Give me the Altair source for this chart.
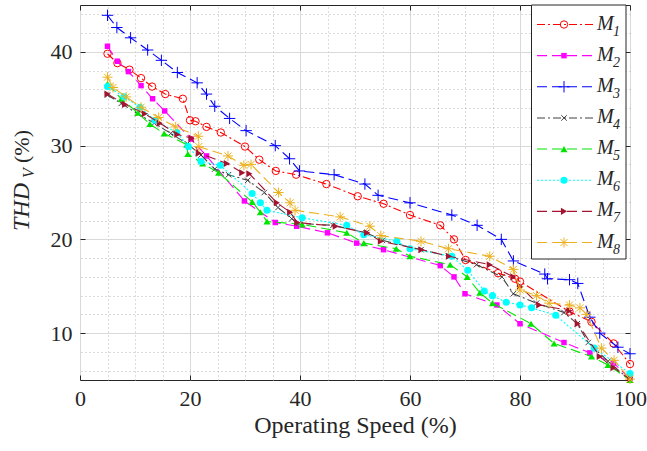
import altair as alt
import pandas as pd

FONT = "Liberation Serif"
INK = "#262626"

names = ["M1", "M2", "M3", "M4", "M5", "M6", "M7", "M8"]
subs = ["1", "2", "3", "4", "5", "6", "7", "8"]

M1_x = [5, 6.8, 9, 11.1, 13.1, 15.5, 18.7, 20, 21, 23, 25.6, 30, 32.6, 35.6, 39.3, 44.8, 50.5, 55.2, 60, 65.5, 68, 70.1, 76, 79.1, 80, 89, 93, 97, 100]
M1_y = [39.8, 38.8, 38.1, 37.2, 36.3, 35.5, 35.0, 32.7, 32.6, 32.0, 31.4, 29.9, 28.5, 27.3, 26.9, 25.9, 24.6, 23.8, 22.6, 21.5, 20.0, 17.8, 16.4, 15.8, 15.5, 12.3, 11.2, 8.9, 6.7]

M2_x = [5, 6.8, 8.8, 11.1, 13.2, 15.4, 20.2, 23, 29.9, 35.5, 39.4, 45, 50.3, 55.2, 65.5, 68, 70, 75.8, 80, 88, 92.7, 97, 100]
M2_y = [40.6, 39.0, 37.9, 36.4, 35.0, 33.7, 30.7, 28.9, 24.1, 21.8, 21.4, 20.7, 19.6, 18.9, 17.2, 16.0, 14.2, 13.0, 11.0, 9.0, 7.9, 6.8, 5.2]

M3_x = [5, 6.7, 9.2, 12.3, 14.8, 17.7, 21.3, 23, 24.5, 27.2, 30.2, 35.5, 38.1, 39.9, 46.2, 51.8, 54.2, 60, 67.6, 72.2, 76.6, 78.8, 84.5, 85, 89, 90.5, 92.7, 94.5, 97.8, 100]
M3_y = [43.9, 42.6, 41.5, 40.2, 39.1, 37.8, 36.7, 35.5, 34.2, 32.9, 31.6, 30.0, 28.6, 27.3, 26.9, 25.9, 24.7, 23.9, 22.6, 21.5, 20.0, 17.7, 16.3, 15.8, 15.7, 15.3, 11.7, 10.0, 8.5, 7.8]

M4_x = [5, 7.5, 10.5, 13.5, 16.5, 19.5, 22, 24.5, 27, 30.5, 33.5, 36, 38.5, 39.8, 46, 52, 55, 62, 67, 72.1, 76.7, 78.8, 83, 88, 90.4, 92.4, 96, 100]
M4_y = [35.4, 34.5, 33.4, 32.4, 31.3, 30.2, 29.0, 27.5, 26.9, 26.3, 25.0, 23.4, 22.2, 21.7, 21.5, 20.7, 19.9, 18.9, 18.2, 17.3, 16.0, 14.2, 13.2, 12.2, 11.0, 9.0, 7.0, 5.0]

M5_x = [5, 7.5, 10.5, 12.7, 15.3, 19.4, 19.6, 22.3, 25.2, 31.3, 32.8, 34, 40.4, 48.5, 51.6, 57.5, 60, 67.3, 70.4, 72.7, 75, 82, 86.2, 93, 96, 100]
M5_y = [36.6, 35.0, 33.5, 32.3, 31.3, 30.1, 29.1, 28.1, 27.1, 24.0, 22.9, 21.9, 21.6, 20.7, 19.6, 19.0, 18.2, 17.3, 16.0, 14.3, 13.2, 11.0, 8.9, 7.5, 6.6, 5.0]

M6_x = [5, 8, 10.9, 13.6, 17.6, 19.7, 22, 25.5, 31.3, 32.8, 34, 40.4, 48.5, 51.6, 57.6, 60, 67.6, 70.5, 73.5, 75, 77.5, 80, 82.1, 86.5, 93.5, 100]
M6_y = [36.3, 35.2, 34.1, 32.7, 31.4, 29.9, 28.3, 27.9, 24.9, 23.9, 23.1, 22.3, 21.5, 20.5, 19.8, 19.0, 18.2, 16.7, 14.5, 14.0, 13.3, 13.0, 12.7, 11.9, 8.4, 5.7]

M7_x = [5, 8.2, 11.8, 14.5, 17.7, 20.3, 21.6, 26.7, 29.5, 30.8, 35.8, 38.2, 39.5, 46.5, 52.2, 54.7, 62.1, 67.1, 74.5, 78.8, 80, 83.5, 89, 90.5, 94.5, 97, 100]
M7_y = [35.5, 34.4, 33.4, 32.4, 31.2, 30.8, 29.2, 28.1, 27.1, 27.0, 23.9, 22.9, 21.8, 21.4, 20.7, 19.8, 18.9, 18.2, 17.3, 16.0, 15.0, 13.0, 12.4, 11.0, 7.5, 6.3, 5.1]

M8_x = [5, 6, 8.4, 11.1, 14.3, 17.4, 21.5, 21.6, 26.9, 29.8, 31.1, 36.1, 38.2, 39.1, 47.3, 52.7, 54.7, 62, 67, 74.5, 78.8, 80, 83, 85.3, 89, 90.9, 92.1, 94.8, 97.1, 100]
M8_y = [37.3, 36.2, 35.2, 34.1, 33.0, 32.0, 31.0, 29.9, 28.9, 27.9, 28.0, 25.0, 23.9, 23.1, 22.4, 21.4, 20.4, 19.8, 19.0, 18.2, 16.8, 14.6, 14.0, 13.2, 13.0, 12.7, 12.0, 8.4, 7.1, 5.1]

xs = [M1_x, M2_x, M3_x, M4_x, M5_x, M6_x, M7_x, M8_x]
ys = [M1_y, M2_y, M3_y, M4_y, M5_y, M6_y, M7_y, M8_y]

x_major = [0, 20, 40, 60, 80, 100]
x_minor = [5, 10, 15, 25, 30, 35, 45, 50, 55, 65, 70, 75, 85, 90, 95]
y_major = [10, 20, 30, 40]
y_minor = [6, 8, 12, 14, 16, 18, 22, 24, 26, 28, 32, 34, 36, 38, 42, 44]

colors = ["#ff0000", "#ff00ff", "#0000ff", "#404040", "#00e600", "#00ffff", "#a2142f", "#edb120"]
DASHDOT = [8, 3, 2, 3]
DASHED = [10, 5]
DOTTED = [2, 2]
dashes = [DASHDOT, DASHED, DASHED, DASHDOT, DASHED, DOTTED, DASHED, DASHED]

PLUS = "M-1,0L1,0M0,-1L0,1"
XMARK = "M-1,-1L1,1M-1,1L1,-1"
STAR = "M-1,0L1,0M0,-1L0,1M-0.7,-0.7L0.7,0.7M-0.7,0.7L0.7,-0.7"
shapes = ["circle", "square", PLUS, XMARK, "triangle-up", "circle", "triangle-right", STAR]
filled = [False, True, False, False, True, True, True, False]
sizes = [55, 30, 130, 30, 50, 50, 50, 100]

xscale = alt.Scale(domain=[0, 100], nice=False, zero=False)
yscale = alt.Scale(domain=[5, 45], nice=False, zero=False)

lab = dict(labelFont=FONT, labelColor=INK, labelFontSize=22, labelFlush=False, labelOverlap=False)

x_major_axis = alt.Axis(values=x_major, grid=True, gridColor="#d9d9d9", gridWidth=1,
                        domain=False, ticks=False, labelPadding=8,
                        title="Operating Speed (%)", titleFont=FONT,
                        titleFontSize=24, titleFontWeight="normal", titleColor=INK,
                        titlePadding=4, **lab)
y_major_axis = alt.Axis(values=y_major, grid=True, gridColor="#d9d9d9", gridWidth=1,
                        domain=False, ticks=False, labelPadding=8, title=None, **lab)
x_minor_axis = alt.Axis(orient="top", values=x_minor, grid=True, gridColor="#b8b8b8",
                        gridDash=[1, 3], gridWidth=1, labels=False, ticks=False,
                        domain=False, title=None)
y_minor_axis = alt.Axis(orient="right", values=y_minor, grid=True, gridColor="#b8b8b8",
                        gridDash=[1, 3], gridWidth=1, labels=False, ticks=False,
                        domain=False, title=None)

def tick_axis(orient, values):
    return alt.Axis(orient=orient, values=values, grid=False, labels=False, domain=False,
                    ticks=True, tickSize=5, tickColor=INK, tickWidth=1, offset=-5, title=None)

x_tick_b = tick_axis("bottom", x_major)
x_tick_t = tick_axis("top", x_major)
y_tick_l = tick_axis("left", y_major)
y_tick_r = tick_axis("right", y_major)

main_layers = []
for i, name in enumerate(names):
    df = pd.DataFrame({"x": xs[i], "y": ys[i], "i": list(range(len(xs[i])))})
    if i == 0:
        xa_l, ya_l, xa_p, ya_p = x_major_axis, y_major_axis, x_minor_axis, y_minor_axis
    elif i == 1:
        xa_l, ya_l, xa_p, ya_p = x_tick_b, y_tick_l, x_tick_t, y_tick_r
    else:
        xa_l = ya_l = xa_p = ya_p = None
    line = alt.Chart(df).mark_line(color=colors[i], strokeDash=dashes[i], strokeWidth=1.1).encode(
        x=alt.X("x:Q", scale=xscale, axis=xa_l),
        y=alt.Y("y:Q", scale=yscale, axis=ya_l),
        order="i:Q",
    )
    pts = alt.Chart(df).mark_point(shape=shapes[i], filled=filled[i], size=sizes[i],
                                    color=colors[i], strokeWidth=1, opacity=1).encode(
        x=alt.X("x:Q", scale=xscale, axis=xa_p),
        y=alt.Y("y:Q", scale=yscale, axis=ya_p),
    )
    main_layers += [line, pts]

main = alt.layer(*main_layers).resolve_axis(x="independent", y="independent")

# legend
leg_scale = alt.Scale(domain=[0, 7], range=[19.5, 237.5], nice=False, zero=False)
box = alt.Chart(pd.DataFrame({"k": [0]})).mark_rect(fill="white", stroke=INK, strokeWidth=1).encode(
    x=alt.value(451.5), x2=alt.value(546), y=alt.value(0), y2=alt.value(254)
)
leg_layers = [box]
for i, name in enumerate(names):
    ldf = pd.DataFrame({"idx": [i]})
    leg_layers.append(
        alt.Chart(ldf).mark_rule(color=colors[i], strokeDash=dashes[i], strokeWidth=1.1).encode(
            x=alt.value(457), x2=alt.value(513),
            y=alt.Y("idx:Q", scale=leg_scale, axis=None))
    )
    leg_layers.append(
        alt.Chart(ldf).mark_point(shape=shapes[i], filled=filled[i], size=sizes[i],
                                  color=colors[i], strokeWidth=1, opacity=1).encode(
            x=alt.value(484), y=alt.Y("idx:Q", scale=leg_scale, axis=None))
    )
ldf_all = pd.DataFrame({"idx": list(range(8)), "m": ["M"] * 8, "sub": subs})
leg_layers.append(
    alt.Chart(ldf_all).mark_text(font=FONT, fontStyle="italic", fontSize=20, align="left",
                                 baseline="alphabetic", dy=5, color=INK).encode(
        x=alt.value(517), y=alt.Y("idx:Q", scale=leg_scale, axis=None), text="m:N")
)
leg_layers.append(
    alt.Chart(ldf_all).mark_text(font=FONT, fontStyle="italic", fontSize=14, align="left",
                                 baseline="alphabetic", dy=11, color=INK).encode(
        x=alt.value(533), y=alt.Y("idx:Q", scale=leg_scale, axis=None), text="sub:N")
)
legend = alt.layer(*leg_layers)

# y-axis title: THD_V (%)
t1 = alt.Chart(pd.DataFrame({"t": ["THD"]})).mark_text(
    font=FONT, fontStyle="italic", fontSize=24, angle=270, align="left",
    baseline="alphabetic", color=INK).encode(x=alt.value(-51), y=alt.value(226), text="t:N")
t2 = alt.Chart(pd.DataFrame({"t": ["V"]})).mark_text(
    font=FONT, fontStyle="italic", fontSize=16, angle=270, align="left",
    baseline="alphabetic", color=INK).encode(x=alt.value(-46), y=alt.value(173), text="t:N")
t3 = alt.Chart(pd.DataFrame({"t": ["(%)"]})).mark_text(
    font=FONT, fontSize=22, angle=270, align="left",
    baseline="alphabetic", color=INK).encode(x=alt.value(-51), y=alt.value(158), text="t:N")

chart = alt.layer(main, legend, t1, t2, t3).resolve_scale(y="independent").properties(
    width=550, height=375,
    padding={"left": 80, "top": 5, "right": 17, "bottom": 71},
    autosize=alt.AutoSizeParams(type="none"),
).configure_view(stroke=INK, strokeWidth=1).configure_axis(
    labelFont=FONT, titleFont=FONT, labelFontSize=22, titleFontSize=24,
    labelColor=INK, titleColor=INK, titleFontWeight="normal"
)

chart.save("out.html", embed_options={"renderer": "svg", "actions": False})
